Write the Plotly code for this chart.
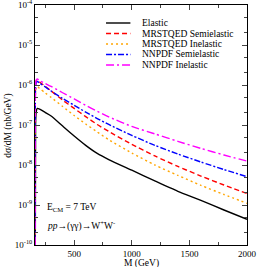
import plotly.graph_objects as go

# Invariant mass grid (GeV)
M = [161, 165, 170, 180, 200, 250, 300, 400, 500, 600, 700, 800, 1000, 1200, 1400, 1600, 1800, 2000]

elastic = [1e-12, 1.0e-7, 2.1e-7, 2.6e-7, 2.5e-7, 2.05e-7, 1.68e-7, 9.4e-8, 5.3e-8, 3.1e-8, 1.95e-8,
           1.37e-8, 7.4e-9, 4.0e-9, 2.2e-9, 1.3e-9, 7.5e-10, 4.4e-10]
mrst_semi = [1e-12, 1.0e-6, 1.25e-6, 1.33e-6, 1.19e-6, 9.2e-7, 7.1e-7, 4.2e-7, 2.6e-7, 1.62e-7, 1.03e-7,
             6.9e-8, 3.3e-8, 1.68e-8, 9.2e-9, 5.3e-9, 3.16e-9, 1.94e-9]
mrst_inel = [1e-12, 7.0e-7, 8.7e-7, 9.2e-7, 8.2e-7, 6.3e-7, 4.9e-7, 2.9e-7, 1.73e-7, 1.06e-7, 6.7e-8,
             4.3e-8, 2.0e-8, 1.0e-8, 5.5e-9, 3.1e-9, 1.83e-9, 1.1e-9]
nnpdf_semi = [1e-12, 9.0e-7, 1.15e-6, 1.22e-6, 1.12e-6, 8.9e-7, 7.1e-7, 4.6e-7, 3.1e-7, 2.1e-7, 1.45e-7,
              1.03e-7, 5.5e-8, 3.1e-8, 1.88e-8, 1.19e-8, 7.7e-9, 5.1e-9]
nnpdf_inel = [1e-12, 1.0e-6, 1.33e-6, 1.41e-6, 1.29e-6, 1.09e-6, 9.2e-7, 6.4e-7, 4.5e-7, 3.1e-7, 2.2e-7,
              1.6e-7, 9.2e-8, 6.0e-8, 3.9e-8, 2.6e-8, 1.78e-8, 1.25e-8]

names = ["Elastic", "MRSTQED Semielastic", "MRSTQED Inelastic", "NNPDF Semielastic", "NNPDF Inelastic"]
series = [elastic, mrst_semi, mrst_inel, nnpdf_semi, nnpdf_inel]
colors = ["#000000", "#FF0000", "#FFA500", "#0000FF", "#FF00FF"]
dashes = ["solid", "5px,3px", "2px,3px", "6px,2px,2px,2px", "8px,3px,2px,3px"]

x_ticks = [500, 1000, 1500, 2000]
y_tickvals = [1e-10, 1e-9, 1e-8, 1e-7, 1e-6, 1e-5, 1e-4]
y_ticktext = ["10<sup>-10</sup>", "10<sup>-9</sup>", "10<sup>-8</sup>", "10<sup>-7</sup>",
              "10<sup>-6</sup>", "10<sup>-5</sup>", "10<sup>-4</sup>"]

FONT = "Liberation Serif"

fig = go.Figure()
for nm, ys, c, d in zip(names, series, colors, dashes):
    fig.add_trace(go.Scatter(x=M, y=ys, mode="lines", name=nm, showlegend=False, hoverinfo="skip",
                             line=dict(color=c, width=1.4, dash=d, shape="spline", smoothing=0.6)))

fig.update_layout(
    width=258, height=267,
    margin=dict(l=35, r=11, t=5, b=22, autoexpand=False),
    paper_bgcolor="white", plot_bgcolor="white",
    font=dict(family=FONT, size=9, color="black"),
    showlegend=False,
    xaxis=dict(range=[160, 2000], tickvals=x_ticks, ticks="inside", ticklen=5,
               showline=True, linecolor="black", linewidth=1, mirror="allticks",
               showgrid=False, zeroline=False, automargin=False, ticklabeloverflow="allow",
               minor=dict(ticks="inside", ticklen=3, dtick=250, tick0=0, showgrid=False),
               tickfont=dict(family=FONT, size=9)),
    yaxis=dict(type="log", range=[-10.0002, -3.9995], tickvals=y_tickvals, ticktext=y_ticktext,
               ticks="inside", ticklen=5, showline=True, linecolor="black", linewidth=1,
               mirror="allticks", showgrid=False, zeroline=False, automargin=False,
               ticklabeloverflow="allow",
               minor=dict(ticks="inside", ticklen=3, showgrid=False),
               tickfont=dict(family=FONT, size=9)),
)

# axis titles
fig.add_annotation(x=0.5, y=-0.075, xref="paper", yref="paper", xanchor="center", yanchor="middle",
                   text="M (GeV)", showarrow=False, font=dict(family=FONT, size=9.5))
fig.add_annotation(x=-0.128, y=0.5, xref="paper", yref="paper", xanchor="center", yanchor="middle",
                   text="dσ/dM (nb/GeV)", textangle=-90, showarrow=False, font=dict(family=FONT, size=9.5))

# legend (drawn manually to match the compact row spacing)
leg_y = [0.925, 0.881, 0.8375, 0.794, 0.75]
for nm, c, d, yy in zip(names, colors, dashes, leg_y):
    fig.add_shape(type="line", xref="paper", yref="paper", x0=0.335, x1=0.45, y0=yy, y1=yy,
                  line=dict(color=c, width=1.4, dash=d))
    fig.add_annotation(x=0.495, y=yy, xref="paper", yref="paper", xanchor="left", yanchor="middle",
                       text=nm, showarrow=False, font=dict(family=FONT, size=9.5))

fig.add_annotation(x=0.047, y=0.158, xref="paper", yref="paper", xanchor="left", yanchor="middle",
                   text="E<sub>CM</sub> = 7 TeV", showarrow=False, font=dict(family=FONT, size=9.5))
fig.add_annotation(x=0.047, y=0.080, xref="paper", yref="paper", xanchor="left", yanchor="middle",
                   text="<i>pp</i>→(γγ)→W<sup>+</sup>W<sup>-</sup>", showarrow=False,
                   font=dict(family=FONT, size=9.5))

fig.write_html("out.html", config={"displayModeBar": False},
               post_script="document.body.style.margin='0';document.body.style.padding='0';")
